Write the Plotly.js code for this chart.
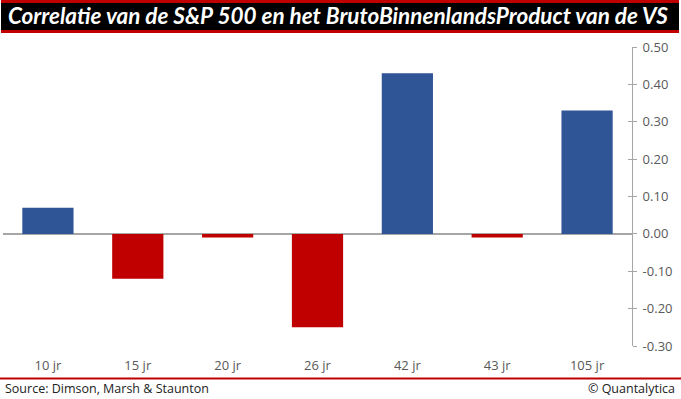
<!DOCTYPE html>
<html>
<head>
<meta charset="utf-8">
<script src="https://cdn.plot.ly/plotly-3.0.1.min.js"></script>
<style>html,body{margin:0;padding:0;background:#fff;}#chart{width:681px;height:399px;}</style>
</head>
<body>
<div id="chart"></div>
<script>
const categories = ["10 jr", "15 jr", "20 jr", "26 jr", "42 jr", "43 jr", "105 jr"];
const correlations = [0.07, -0.12, -0.01, -0.25, 0.43, -0.01, 0.33];
const yTickValues = [0.5, 0.4, 0.3, 0.2, 0.1, 0, -0.1, -0.2, -0.3];
const yTickLabels = ["0.50", "0.40", "0.30", "0.20", "0.10", "0.00", "-0.10", "-0.20", "-0.30"];

const BLUE = "#2F5597", RED = "#C00000", GRAY = "#A6A6A6", TXT = "#595959";
const barColors = correlations.map(v => v >= 0 ? BLUE : RED);

const W = 681, H = 399, L = 3, R = 49, T = 47, B = 53;
const pw = W - L - R, ph = H - T - B;
const px = x => (x - L) / pw;
const py = y => (H - B - y) / ph;

const traces = [
  {type: "bar", x: categories, y: correlations, marker: {color: barColors, line: {width: 0}},
   hoverinfo: "x+y", showlegend: false},
  {type: "scatter", x: [categories[0]], y: [0], yaxis: "y2", mode: "markers",
   marker: {opacity: 0}, hoverinfo: "skip", showlegend: false}
];

const layout = {
  width: W, height: H,
  margin: {l: L, r: R, t: T, b: B, pad: 0},
  paper_bgcolor: "#fff", plot_bgcolor: "#fff",
  bargap: 0.43,
  font: {family: "Open Sans, sans-serif", color: TXT, size: 12},
  title: {
    text: "Correlatie van de S&P 500 en het BrutoBinnenlandsProduct van de VS",
    font: {family: "Lato, sans-serif", size: 22.5, color: "#fff", weight: "bold", style: "italic"},
    xref: "container", yref: "container", x: 8 / W, xanchor: "left", y: 1 - 16.5 / H, yanchor: "middle"
  },
  xaxis: {
    type: "category", showline: false, showgrid: false, zeroline: false,
    ticks: "outside", ticklen: 7, tickcolor: "rgba(0,0,0,0)",
    tickfont: {family: "Open Sans, sans-serif", size: 13, color: TXT}
  },
  yaxis: {
    side: "right", range: [-0.3, 0.5], tickvals: yTickValues, ticktext: yTickLabels,
    showgrid: false, showline: true, linecolor: GRAY, linewidth: 1,
    zeroline: true, zerolinecolor: GRAY, zerolinewidth: 2,
    ticks: "outside", ticklen: 4, tickcolor: GRAY, tickwidth: 1, ticklabelstandoff: 3,
    tickfont: {family: "Open Sans, sans-serif", size: 13, color: TXT}
  },
  yaxis2: {
    overlaying: "y", side: "right", range: [-0.3, 0.5], tickvals: yTickValues,
    showticklabels: false, showgrid: false, showline: false, zeroline: false,
    ticks: "inside", ticklen: 4, tickcolor: GRAY, tickwidth: 1
  },
  shapes: [
    {type: "rect", xref: "paper", yref: "paper", x0: px(1), x1: px(679), y0: py(0), y1: py(33),
     fillcolor: RED, line: {width: 0}},
    {type: "rect", xref: "paper", yref: "paper", x0: px(1), x1: px(679), y0: py(3), y1: py(30),
     fillcolor: "#000", line: {width: 0}},
    {type: "line", xref: "paper", yref: "paper", x0: px(0), x1: px(681), y0: py(378.5), y1: py(378.5),
     line: {color: RED, width: 2}}
  ],
  annotations: [
    {text: "Source: Dimson, Marsh & Staunton", xref: "paper", yref: "paper", x: px(3), y: py(389),
     xanchor: "left", yanchor: "middle", showarrow: false,
     font: {family: "Open Sans, sans-serif", size: 12.5, color: "#222"}},
    {text: "© Quantalytica", xref: "paper", yref: "paper", x: px(677), y: py(389),
     xanchor: "right", yanchor: "middle", showarrow: false,
     font: {family: "Open Sans, sans-serif", size: 12.5, color: "#222"}}
  ]
};

Plotly.newPlot("chart", traces, layout, {displayModeBar: false, staticPlot: true});
</script>
</body>
</html>
